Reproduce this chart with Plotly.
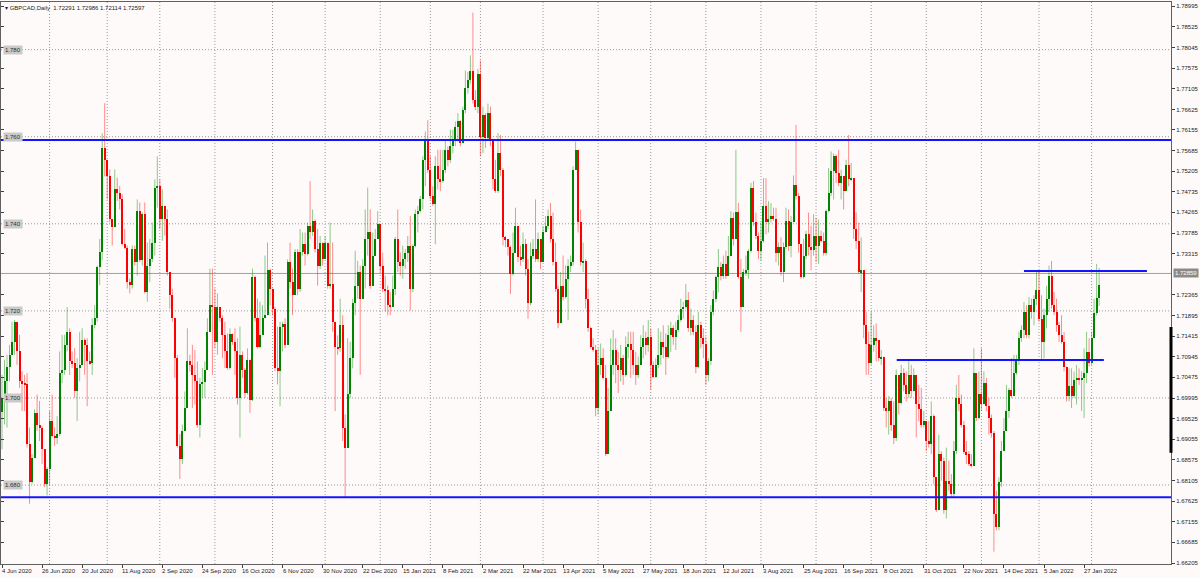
import plotly.graph_objects as go

# ---------------- data ----------------
symbol_title = "GBPCAD,Daily"
last_ohlc = [1.72291, 1.72986, 1.72114, 1.72597]
first_open = 1.6968
current_price = 1.72859

closes = [
    1.7000, 1.7038, 1.7072, 1.7099, 1.7129, 1.7175, 1.7107, 1.7038, 1.7034, 1.7031,
    1.6894, 1.6806, 1.6863, 1.6966, 1.6939, 1.6930, 1.6882, 1.6803, 1.6837, 1.6947,
    1.6913, 1.6908, 1.6917, 1.7057, 1.7065, 1.7122, 1.7152, 1.7084, 1.7080, 1.7015,
    1.7069, 1.7076, 1.7133, 1.7122, 1.7084, 1.7080, 1.7167, 1.7183, 1.7300, 1.7335,
    1.7574, 1.7547, 1.7509, 1.7411, 1.7392, 1.7479, 1.7471, 1.7456, 1.7354, 1.7345,
    1.7266, 1.7259, 1.7342, 1.7312, 1.7430, 1.7316, 1.7422, 1.7243, 1.7304, 1.7319,
    1.7357, 1.7483, 1.7487, 1.7411, 1.7441, 1.7411, 1.7289, 1.7236, 1.7183, 1.7091,
    1.6890, 1.6860, 1.6924, 1.6977, 1.7084, 1.7076, 1.7053, 1.7038, 1.6939, 1.7031,
    1.7036, 1.7065, 1.7152, 1.7213, 1.7208, 1.7129, 1.7209, 1.7183, 1.7145, 1.7107,
    1.7069, 1.7148, 1.7129, 1.7107, 1.7000, 1.7099, 1.7065, 1.7012, 1.7088, 1.6996,
    1.7278, 1.7183, 1.7118, 1.7145, 1.7183, 1.7190, 1.7293, 1.7251, 1.7205, 1.7069,
    1.7062, 1.7164, 1.7170, 1.7122, 1.7312, 1.7266, 1.7236, 1.7335, 1.7251, 1.7335,
    1.7353, 1.7331, 1.7395, 1.7380, 1.7407, 1.7342, 1.7304, 1.7357, 1.7319, 1.7357,
    1.7258, 1.7262, 1.7175, 1.7118, 1.7114, 1.7167, 1.6932, 1.6886, 1.7008, 1.7091,
    1.7217, 1.7258, 1.7289, 1.7228, 1.7304, 1.7365, 1.7380, 1.7258, 1.7327, 1.7365,
    1.7399, 1.7304, 1.7251, 1.7247, 1.7213, 1.7210, 1.7251, 1.7365, 1.7312, 1.7304,
    1.7319, 1.7334, 1.7350, 1.7251, 1.7350, 1.7422, 1.7429, 1.7456, 1.7547, 1.7593,
    1.7524, 1.7464, 1.7445, 1.7532, 1.7502, 1.7498, 1.7524, 1.7570, 1.7547, 1.7578,
    1.7593, 1.7623, 1.7635, 1.7585, 1.7661, 1.7711, 1.7730, 1.7752, 1.7684, 1.7669,
    1.7745, 1.7600, 1.7650, 1.7597, 1.7654, 1.7593, 1.7502, 1.7475, 1.7562, 1.7524,
    1.7369, 1.7365, 1.7346, 1.7285, 1.7334, 1.7395, 1.7323, 1.7319, 1.7353, 1.7296,
    1.7217, 1.7327, 1.7342, 1.7319, 1.7365, 1.7312, 1.7380, 1.7395, 1.7418, 1.7365,
    1.7312, 1.7251, 1.7171, 1.7258, 1.7232, 1.7274, 1.7304, 1.7312, 1.7524, 1.7570,
    1.7403, 1.7312, 1.7315, 1.7228, 1.7160, 1.7118, 1.7110, 1.6977, 1.7076, 1.7091,
    1.7046, 1.6871, 1.6970, 1.7076, 1.7110, 1.7076, 1.7065, 1.7091, 1.7053, 1.7118,
    1.7125, 1.7110, 1.7076, 1.7053, 1.7076, 1.7118, 1.7137, 1.7122, 1.7141, 1.7076,
    1.7049, 1.7076, 1.7099, 1.7129, 1.7118, 1.7095, 1.7144, 1.7160, 1.7141, 1.7156,
    1.7179, 1.7205, 1.7209, 1.7224, 1.7160, 1.7179, 1.7152, 1.7072, 1.7167, 1.7137,
    1.7125, 1.7053, 1.7084, 1.7198, 1.7228, 1.7277, 1.7300, 1.7281, 1.7308, 1.7281,
    1.7327, 1.7414, 1.7365, 1.7426, 1.7277, 1.7209, 1.7289, 1.7293, 1.7338, 1.7483,
    1.7403, 1.7372, 1.7338, 1.7361, 1.7441, 1.7403, 1.7410, 1.7418, 1.7410, 1.7334,
    1.7346, 1.7289, 1.7346, 1.7407, 1.7350, 1.7403, 1.7490, 1.7464, 1.7353, 1.7277,
    1.7327, 1.7376, 1.7346, 1.7340, 1.7372, 1.7350, 1.7372, 1.7361, 1.7334, 1.7429,
    1.7471, 1.7521, 1.7555, 1.7517, 1.7494, 1.7509, 1.7475, 1.7536, 1.7502, 1.7505,
    1.7388, 1.7361, 1.7289, 1.7293, 1.7167, 1.7125, 1.7080, 1.7122, 1.7137, 1.7133,
    1.7091, 1.7095, 1.6977, 1.6970, 1.6993, 1.6939, 1.6909, 1.7053, 1.6989, 1.7057,
    1.7030, 1.7008, 1.7053, 1.7015, 1.7053, 1.6985, 1.6974, 1.6939, 1.6947, 1.6901,
    1.6894, 1.6958, 1.6818, 1.6742, 1.6871, 1.6856, 1.6742, 1.6810, 1.6802, 1.6780,
    1.6878, 1.7000, 1.6985, 1.6939, 1.6875, 1.6871, 1.6848, 1.6844, 1.7057, 1.6954,
    1.7008, 1.6985, 1.7034, 1.6981, 1.6954, 1.6920, 1.6734, 1.6704, 1.6806, 1.6878,
    1.6924, 1.6970, 1.7019, 1.7004, 1.7057, 1.7084, 1.7137, 1.7156, 1.7198, 1.7144,
    1.7213, 1.7198, 1.7228, 1.7247, 1.7182, 1.7129, 1.7190, 1.7228, 1.7281, 1.7213,
    1.7198, 1.7167, 1.7144, 1.7129, 1.7072, 1.7004, 1.7027, 1.7004, 1.7042, 1.7046,
    1.7042, 1.7046, 1.7057, 1.7106, 1.7080, 1.7137, 1.7194, 1.7229, 1.72597,
]

highs = [
    1.7053, 1.7088, 1.7099, 1.7122, 1.7175, 1.7179, 1.7145, 1.7145, 1.7061, 1.7053,
    1.7057, 1.6932, 1.6871, 1.6974, 1.7008, 1.6993, 1.6936, 1.6882, 1.6841, 1.6970,
    1.7008, 1.6932, 1.6958, 1.7107, 1.7145, 1.7145, 1.7209, 1.7160, 1.7107, 1.7114,
    1.7091, 1.7152, 1.7160, 1.7137, 1.7137, 1.7107, 1.7183, 1.7213, 1.7304, 1.7365,
    1.7608, 1.7677, 1.7528, 1.7525, 1.7411, 1.7525, 1.7506, 1.7487, 1.7468, 1.7388,
    1.7350, 1.7274, 1.7350, 1.7350, 1.7456, 1.7449, 1.7426, 1.7449, 1.7357, 1.7365,
    1.7403, 1.7502, 1.7555, 1.7502, 1.7479, 1.7441, 1.7433, 1.7289, 1.7251, 1.7183,
    1.7099, 1.6917, 1.6939, 1.7015, 1.7160, 1.7099, 1.7122, 1.7110, 1.7084, 1.7046,
    1.7069, 1.7084, 1.7183, 1.7297, 1.7297, 1.7251, 1.7240, 1.7209, 1.7190, 1.7175,
    1.7148, 1.7160, 1.7145, 1.7160, 1.7137, 1.7164, 1.7107, 1.7069, 1.7114, 1.7088,
    1.7297, 1.7281, 1.7228, 1.7221, 1.7213, 1.7327, 1.7357, 1.7297, 1.7251, 1.7209,
    1.7164, 1.7175, 1.7175, 1.7183, 1.7318, 1.7357, 1.7297, 1.7342, 1.7342, 1.7388,
    1.7380, 1.7380, 1.7403, 1.7498, 1.7433, 1.7410, 1.7388, 1.7372, 1.7357, 1.7372,
    1.7357, 1.7403, 1.7357, 1.7152, 1.7144, 1.7228, 1.7190, 1.6962, 1.7137, 1.7129,
    1.7228, 1.7338, 1.7315, 1.7304, 1.7319, 1.7433, 1.7483, 1.7433, 1.7380, 1.7388,
    1.7429, 1.7395, 1.7334, 1.7281, 1.7258, 1.7243, 1.7281, 1.7370, 1.7433, 1.7334,
    1.7350, 1.7342, 1.7372, 1.7418, 1.7353, 1.7433, 1.7441, 1.7464, 1.7555, 1.7612,
    1.7638, 1.7555, 1.7486, 1.7555, 1.7570, 1.7570, 1.7570, 1.7593, 1.7578, 1.7616,
    1.7616, 1.7635, 1.7654, 1.7638, 1.7669, 1.7752, 1.7749, 1.7787, 1.7885, 1.7707,
    1.7756, 1.7775, 1.7669, 1.7654, 1.7676, 1.7669, 1.7593, 1.7547, 1.7608, 1.7604,
    1.7528, 1.7372, 1.7365, 1.7350, 1.7380, 1.7437, 1.7395, 1.7350, 1.7380, 1.7365,
    1.7319, 1.7357, 1.7365, 1.7456, 1.7380, 1.7365, 1.7395, 1.7418, 1.7433, 1.7448,
    1.7426, 1.7357, 1.7258, 1.7289, 1.7327, 1.7304, 1.7319, 1.7327, 1.7532, 1.7589,
    1.7570, 1.7433, 1.7357, 1.7319, 1.7251, 1.7163, 1.7137, 1.7122, 1.7114, 1.7125,
    1.7114, 1.7076, 1.7023, 1.7137, 1.7156, 1.7137, 1.7106, 1.7122, 1.7099, 1.7141,
    1.7152, 1.7152, 1.7152, 1.7106, 1.7095, 1.7144, 1.7167, 1.7152, 1.7179, 1.7160,
    1.7084, 1.7091, 1.7160, 1.7152, 1.7167, 1.7148, 1.7167, 1.7175, 1.7167, 1.7175,
    1.7190, 1.7228, 1.7221, 1.7262, 1.7243, 1.7205, 1.7190, 1.7167, 1.7198, 1.7175,
    1.7160, 1.7141, 1.7091, 1.7213, 1.7247, 1.7281, 1.7342, 1.7312, 1.7327, 1.7338,
    1.7372, 1.7429, 1.7426, 1.7570, 1.7448, 1.7319, 1.7296, 1.7327, 1.7342, 1.7494,
    1.7498, 1.7426, 1.7380, 1.7403, 1.7505, 1.7505, 1.7452, 1.7448, 1.7437, 1.7437,
    1.7357, 1.7369, 1.7357, 1.7437, 1.7433, 1.7418, 1.7511, 1.7627, 1.7471, 1.7350,
    1.7365, 1.7384, 1.7426, 1.7395, 1.7422, 1.7414, 1.7410, 1.7384, 1.7380, 1.7433,
    1.7528, 1.7566, 1.7562, 1.7559, 1.7570, 1.7524, 1.7498, 1.7547, 1.7604, 1.7540,
    1.7502, 1.7426, 1.7403, 1.7369, 1.7293, 1.7198, 1.7152, 1.7198, 1.7167, 1.7171,
    1.7125, 1.7110, 1.7061, 1.7000, 1.7004, 1.7000, 1.6992, 1.7065, 1.7046, 1.7076,
    1.7068, 1.7061, 1.7084, 1.7076, 1.7068, 1.7053, 1.7030, 1.7023, 1.6970, 1.6947,
    1.6947, 1.6992, 1.6962, 1.6818, 1.6916, 1.6878, 1.6863, 1.6886, 1.6856, 1.6825,
    1.6901, 1.7030, 1.7053, 1.7008, 1.6947, 1.6901, 1.6878, 1.6871, 1.7114, 1.7046,
    1.7061, 1.7114, 1.7061, 1.7046, 1.7000, 1.6962, 1.6924, 1.6787, 1.6818, 1.6901,
    1.6954, 1.7030, 1.7023, 1.7091, 1.7099, 1.7099, 1.7152, 1.7167, 1.7220, 1.7213,
    1.7232, 1.7228, 1.7236, 1.7293, 1.7293, 1.7236, 1.7205, 1.7258, 1.7304, 1.7315,
    1.7243, 1.7228, 1.7175, 1.7190, 1.7152, 1.7072, 1.7068, 1.7068, 1.7061, 1.7076,
    1.7068, 1.7061, 1.7114, 1.7152, 1.7137, 1.7152, 1.7228, 1.7308, 1.72986,
]

lows = [
    1.6882, 1.6939, 1.6932, 1.7038, 1.7099, 1.7099, 1.7076, 1.7023, 1.6970, 1.6970,
    1.6886, 1.6757, 1.6803, 1.6863, 1.6924, 1.6901, 1.6848, 1.6795, 1.6776, 1.6799,
    1.6909, 1.6890, 1.6894, 1.6913, 1.7034, 1.7053, 1.7107, 1.7053, 1.7069, 1.7000,
    1.6947, 1.7038, 1.7076, 1.7053, 1.6981, 1.7076, 1.7053, 1.7160, 1.7175, 1.7259,
    1.7316, 1.7509, 1.7456, 1.7403, 1.7350, 1.7395, 1.7452, 1.7433, 1.7350, 1.7342,
    1.7251, 1.7240, 1.7251, 1.7304, 1.7281, 1.7312, 1.7304, 1.7240, 1.7221, 1.7266,
    1.7312, 1.7327, 1.7437, 1.7388, 1.7361, 1.7373, 1.7281, 1.7205, 1.7175, 1.7046,
    1.6886, 1.6814, 1.6848, 1.6924, 1.7000, 1.7061, 1.6977, 1.6985, 1.6932, 1.6909,
    1.7000, 1.7000, 1.7076, 1.7152, 1.7053, 1.7114, 1.7099, 1.7175, 1.7091, 1.7069,
    1.7065, 1.7065, 1.7122, 1.7053, 1.6985, 1.6909, 1.7046, 1.7000, 1.7008, 1.6966,
    1.6993, 1.7175, 1.7114, 1.7114, 1.7145, 1.7183, 1.7190, 1.7213, 1.7190, 1.7061,
    1.7031, 1.6981, 1.7107, 1.7114, 1.7122, 1.7251, 1.7190, 1.7236, 1.7236, 1.7243,
    1.7327, 1.7304, 1.7327, 1.7365, 1.7372, 1.7334, 1.7258, 1.7296, 1.7304, 1.7319,
    1.7251, 1.7251, 1.7152, 1.6970, 1.7099, 1.7106, 1.6901, 1.6772, 1.6947, 1.7000,
    1.7068, 1.7190, 1.7228, 1.7053, 1.7228, 1.7251, 1.7327, 1.7251, 1.7274, 1.7327,
    1.7365, 1.7289, 1.7243, 1.7198, 1.7190, 1.7190, 1.7213, 1.7236, 1.7289, 1.7281,
    1.7274, 1.7296, 1.7312, 1.7201, 1.7243, 1.7346, 1.7380, 1.7426, 1.7433, 1.7486,
    1.7517, 1.7456, 1.7441, 1.7353, 1.7479, 1.7475, 1.7494, 1.7517, 1.7532, 1.7540,
    1.7562, 1.7578, 1.7589, 1.7578, 1.7585, 1.7654, 1.7699, 1.7722, 1.7676, 1.7661,
    1.7654, 1.7555, 1.7562, 1.7574, 1.7593, 1.7578, 1.7479, 1.7471, 1.7471, 1.7509,
    1.7350, 1.7346, 1.7327, 1.7239, 1.7281, 1.7334, 1.7312, 1.7304, 1.7312, 1.7281,
    1.7182, 1.7213, 1.7319, 1.7312, 1.7312, 1.7296, 1.7312, 1.7380, 1.7388, 1.7357,
    1.7304, 1.7243, 1.7160, 1.7190, 1.7224, 1.7228, 1.7179, 1.7289, 1.7304, 1.7524,
    1.7380, 1.7304, 1.7289, 1.7205, 1.7152, 1.7114, 1.7106, 1.6958, 1.6962, 1.7053,
    1.7042, 1.6867, 1.6871, 1.6970, 1.7053, 1.7034, 1.7011, 1.7038, 1.7030, 1.7049,
    1.7091, 1.7046, 1.7053, 1.7030, 1.7046, 1.7084, 1.7091, 1.7099, 1.7106, 1.7019,
    1.7046, 1.7046, 1.7068, 1.7076, 1.7091, 1.7053, 1.7091, 1.7106, 1.7122, 1.7110,
    1.7152, 1.7175, 1.7182, 1.7205, 1.7152, 1.7144, 1.7144, 1.7057, 1.7068, 1.7114,
    1.7091, 1.7030, 1.7038, 1.7076, 1.7190, 1.7220, 1.7243, 1.7270, 1.7274, 1.7274,
    1.7281, 1.7327, 1.7350, 1.7365, 1.7274, 1.7152, 1.7209, 1.7281, 1.7274, 1.7334,
    1.7395, 1.7365, 1.7319, 1.7315, 1.7357, 1.7376, 1.7380, 1.7403, 1.7407, 1.7312,
    1.7304, 1.7281, 1.7266, 1.7342, 1.7338, 1.7323, 1.7403, 1.7456, 1.7334, 1.7274,
    1.7274, 1.7319, 1.7327, 1.7293, 1.7327, 1.7312, 1.7308, 1.7357, 1.7327, 1.7327,
    1.7426, 1.7464, 1.7456, 1.7494, 1.7486, 1.7456, 1.7433, 1.7475, 1.7486, 1.7498,
    1.7365, 1.7342, 1.7285, 1.7243, 1.7137, 1.7053, 1.7053, 1.7076, 1.7106, 1.7084,
    1.7084, 1.7076, 1.6970, 1.6932, 1.6916, 1.6924, 1.6894, 1.6901, 1.6962, 1.6985,
    1.7015, 1.6992, 1.7000, 1.7000, 1.7015, 1.6909, 1.6947, 1.6932, 1.6932, 1.6878,
    1.6886, 1.6871, 1.6802, 1.6738, 1.6772, 1.6810, 1.6734, 1.6723, 1.6787, 1.6772,
    1.6772, 1.6871, 1.6970, 1.6932, 1.6871, 1.6848, 1.6844, 1.6840, 1.6844, 1.6947,
    1.6951, 1.6970, 1.7000, 1.6970, 1.6916, 1.6909, 1.6647, 1.6696, 1.6696, 1.6795,
    1.6878, 1.6924, 1.6954, 1.7000, 1.7008, 1.7053, 1.7076, 1.7129, 1.7137, 1.7137,
    1.7137, 1.7182, 1.7167, 1.7213, 1.7175, 1.7087, 1.7091, 1.7160, 1.7198, 1.7205,
    1.7190, 1.7152, 1.7129, 1.7125, 1.7061, 1.6992, 1.6992, 1.6977, 1.7000, 1.6985,
    1.7030, 1.6970, 1.6954, 1.7034, 1.7072, 1.7076, 1.7137, 1.7190, 1.72114,
]

date_labels = [
    "4 Jun 2020", "26 Jun 2020", "20 Jul 2020", "11 Aug 2020", "2 Sep 2020",
    "24 Sep 2020", "16 Oct 2020", "6 Nov 2020", "30 Nov 2020", "22 Dec 2020",
    "15 Jan 2021", "8 Feb 2021", "2 Mar 2021", "22 Mar 2021", "13 Apr 2021",
    "5 May 2021", "27 May 2021", "18 Jun 2021", "12 Jul 2021", "3 Aug 2021",
    "25 Aug 2021", "16 Sep 2021", "8 Oct 2021", "31 Oct 2021", "22 Nov 2021",
    "14 Dec 2021", "5 Jan 2022", "27 Jan 2022",
]
label_step = 16  # bars between date labels

month_start_bars = [19, 42, 63, 85, 108, 129, 151, 171, 191, 216, 238, 259,
                    281, 303, 325, 347, 369, 391, 414, 435]

price_axis_ticks = [1.78995, 1.78525, 1.78045, 1.77575, 1.77105, 1.76625, 1.76155,
                    1.75685, 1.75205, 1.74735, 1.74265, 1.73785, 1.73315, 1.72365,
                    1.71895, 1.71415, 1.70945, 1.70475, 1.69995, 1.69525, 1.69055,
                    1.68575, 1.68105, 1.67625, 1.67155, 1.66685, 1.66205]
round_levels = [1.680, 1.700, 1.720, 1.740, 1.760, 1.780]

# support / resistance lines: (price, start bar or None, end bar or None)
sr_lines = [(1.75924, None, None), (1.67718, None, None),
            (1.70871, 357.2, 439.9), (1.72915, 408.0, 457.1)]
range_marker = (1.6874, 1.7163)

# ---------------- build ----------------
n = min(len(closes), len(highs), len(lows))
closes = closes[:n]
highs = highs[:n]
lows = lows[:n]
opens = [first_open] + closes[:-1]
opens[-1] = last_ohlc[0]
closes[-1] = last_ohlc[3]
highs[-1] = last_ohlc[1]
lows[-1] = last_ohlc[2]

X_MIN, X_MAX = -0.4, 466.7
Y_MIN, Y_MAX = 1.66186, 1.79094

fig = go.Figure()

min_body = 0.00023
for bull, body_col, wick_col in [(True, "#008000", "rgba(0,140,0,0.45)"),
                                 (False, "#ff0000", "rgba(255,0,0,0.45)")]:
    wx, wy, bx, bbase, bh = [], [], [], [], []
    for i in range(n):
        o, c = opens[i], closes[i]
        if (c >= o) != bull:
            continue
        h = max(highs[i], o, c)
        l = min(lows[i], o, c)
        wx += [i, i, None]
        wy += [l, h, None]
        lo_b, hi_b = min(o, c), max(o, c)
        ht = hi_b - lo_b
        if ht < min_body:
            mid = (hi_b + lo_b) / 2
            lo_b = mid - min_body / 2
            ht = min_body
        bx.append(i)
        bbase.append(lo_b)
        bh.append(ht)
    fig.add_trace(go.Scatter(x=wx, y=wy, mode="lines",
                             line=dict(color=wick_col, width=1),
                             hoverinfo="skip", showlegend=False))
    fig.add_trace(go.Bar(x=bx, y=bh, base=bbase, width=0.8,
                         marker=dict(color=body_col, line=dict(width=0)),
                         hoverinfo="skip", showlegend=False))

GRID_DASH = "1px,2px"
shapes = []
# horizontal dotted round-level grid
for lv in round_levels:
    shapes.append(dict(type="line", xref="paper", x0=0, x1=1, yref="y", y0=lv, y1=lv,
                       line=dict(color="#9a9a9a", width=1, dash=GRID_DASH), layer="below"))
# vertical dotted month grid
for b in month_start_bars:
    shapes.append(dict(type="line", xref="x", x0=b, x1=b, yref="paper", y0=0, y1=1,
                       line=dict(color="#9a9a9a", width=1, dash=GRID_DASH), layer="below"))
# current price line
shapes.append(dict(type="line", xref="paper", x0=0, x1=1, yref="y",
                   y0=current_price, y1=current_price,
                   line=dict(color="#a0a0a0", width=1), layer="below"))
# blue horizontal lines
for p, a, b in sr_lines:
    if a is None:
        shapes.append(dict(type="line", xref="paper", x0=0, x1=1, yref="y", y0=p, y1=p,
                           line=dict(color="#1414ff", width=2)))
    else:
        shapes.append(dict(type="line", xref="x", x0=a, x1=b, yref="y", y0=p, y1=p,
                           line=dict(color="#1414ff", width=2)))
# black marker on the price scale
shapes.append(dict(type="line", xref="paper", x0=1, x1=1, yref="y",
                   y0=range_marker[0], y1=range_marker[1],
                   line=dict(color="#000000", width=3)))

annotations = []
FONT = "Liberation Sans, Arial, sans-serif"
# title
annotations.append(dict(xref="paper", yref="paper", x=0, y=1, xanchor="left", yanchor="top",
                        xshift=2, yshift=-1, showarrow=False,
                        text="\u25BE " + symbol_title + "  " + " ".join(f"{v:.5f}" for v in last_ohlc),
                        font=dict(family=FONT, size=6, color="#1a1a1a")))
# date labels
for k, lab in enumerate(date_labels):
    annotations.append(dict(xref="x", yref="paper", x=k * label_step, y=0,
                            xanchor="left", yanchor="top", xshift=-2, yshift=-2,
                            showarrow=False, text=lab,
                            font=dict(family=FONT, size=6, color="#1a1a1a")))
# round level labels on the left
for lv in round_levels:
    annotations.append(dict(xref="paper", yref="y", x=0, y=lv, xanchor="left",
                            yanchor="middle", xshift=2, showarrow=False,
                            text=f"{lv:.3f}", bgcolor="#c9c9c9", borderpad=1,
                            font=dict(family=FONT, size=6, color="#303030")))
# current price box
annotations.append(dict(xref="paper", yref="y", x=1, y=current_price, xanchor="left",
                        yanchor="middle", xshift=2, showarrow=False,
                        text=f"{current_price:.5f}", bgcolor="#8a8a8a", borderpad=1,
                        font=dict(family=FONT, size=6, color="#ffffff")))

fig.update_layout(
    width=1200, height=578,
    margin=dict(l=1, r=29, t=2, b=14, autoexpand=False),
    paper_bgcolor="#FFFAFA", plot_bgcolor="#FFFAFA",
    showlegend=False, barmode="overlay", bargap=0,
    shapes=shapes, annotations=annotations,
    xaxis=dict(range=[X_MIN, X_MAX], showgrid=False, zeroline=False,
               showline=True, linecolor="#606060", linewidth=1, mirror=True,
               ticks="outside", ticklen=3, tickcolor="#404040",
               tickvals=[k * label_step for k in range(len(date_labels))],
               showticklabels=False, fixedrange=True),
    yaxis=dict(range=[Y_MIN, Y_MAX], side="right", showgrid=False, zeroline=False,
               showline=True, linecolor="#606060", linewidth=1, mirror=True,
               ticks="outside", ticklen=3, tickcolor="#404040",
               tickvals=price_axis_ticks,
               ticktext=[f"{v:.5f}" for v in price_axis_ticks],
               tickfont=dict(family=FONT, size=6, color="#1a1a1a"),
               fixedrange=True),
    yaxis2=dict(range=[Y_MIN, Y_MAX], overlaying="y", side="left", showgrid=False,
                zeroline=False, showline=False, ticks="inside", ticklen=3,
                tickcolor="#404040", tickvals=price_axis_ticks, showticklabels=False,
                fixedrange=True),
)
# invisible trace so the left (mirror) tick axis is drawn
fig.add_trace(go.Scatter(x=[X_MIN], y=[Y_MIN], yaxis="y2", mode="markers",
                         marker=dict(opacity=0), hoverinfo="skip", showlegend=False))

fig.write_html("out.html", config={"displayModeBar": False},
               post_script="document.body.style.margin='0px';document.body.style.overflow='hidden';")
